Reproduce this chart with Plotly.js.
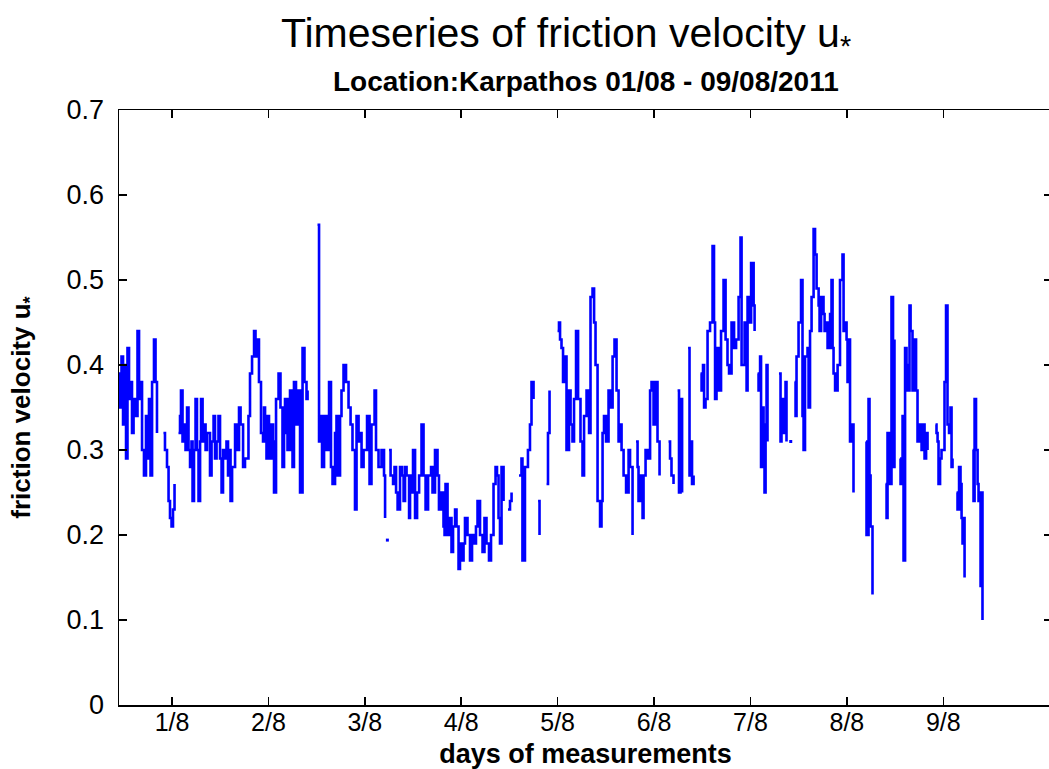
<!DOCTYPE html>
<html>
<head>
<meta charset="utf-8">
<script src="https://cdn.plot.ly/plotly-3.0.1.min.js"></script>
<style>
  html, body { margin: 0; padding: 0; overflow: hidden; background: #ffffff; }
  #chart { width: 1052px; height: 769px; }
</style>
</head>
<body>
<div id="chart"></div>
<script>
// Time in days of August 2011, friction velocity u* (m/s); null = gap in record
const days = [
0.445,0.461,0.476,0.492,0.507,0.523,0.538,0.554,0.570,0.585,0.601,0.616,0.642,0.658,0.673,0.689,0.709,0.730,0.746,0.761,0.777,0.793,0.813,0.829,0.844,0.865,
0.911,0.927,0.948,0.964,0.979,0.995,1.010,1.026,1.041,
1.067,1.083,1.093,1.109,1.124,1.140,1.156,1.171,1.187,1.202,1.213,1.228,1.244,1.259,1.275,1.291,1.301,1.317,1.332,1.348,1.363,1.394,1.410,1.431,1.446,1.462,1.482,1.498,1.514,1.529,1.550,1.565,1.581,1.597,1.607,1.623,1.654,1.674,1.695,1.711,1.737,1.757,1.793,1.809,1.830,1.851,1.866,1.882,1.902,1.923,1.944,1.954,1.965,1.980,1.991,2.006,2.017,2.032,2.048,2.058,2.079,2.105,2.125,2.146,2.162,2.172,2.198,2.224,2.250,2.265,2.286,2.312,2.328,2.354,2.374,2.395,2.406,2.421,
2.509,2.525,2.535,2.556,2.577,2.603,2.629,2.649,2.665,2.691,2.706,2.717,2.743,2.758,2.779,2.805,2.831,2.852,2.872,2.898,2.914,2.935,2.950,2.966,2.987,3.023,3.049,3.069,3.101,3.116,3.142,3.173,3.199,3.210,3.220,
3.251,3.267,3.293,3.308,3.324,3.340,3.365,3.386,3.402,3.417,3.433,3.459,3.469,3.485,3.500,3.521,3.542,3.563,3.588,3.609,3.630,3.656,3.687,3.702,3.728,3.754,3.769,3.790,3.816,3.827,3.837,3.858,3.879,3.899,3.915,3.936,3.951,3.972,3.987,4.008,4.024,4.039,4.065,4.091,4.112,4.133,4.153,4.169,4.195,4.221,4.241,4.262,4.288,4.309,4.335,4.356,4.371,4.387,4.402,4.418,4.439,4.449,
4.485,4.506,4.522,4.532,
4.599,4.625,4.635,4.661,4.692,4.713,4.729,4.750,4.771,
4.797,4.812,4.828,
4.885,4.900,4.916,4.931,
4.999,5.014,5.025,5.040,5.056,5.072,5.092,5.118,5.134,5.154,5.170,5.191,5.212,5.237,5.258,5.274,5.300,5.326,5.341,5.362,5.378,5.393,5.414,5.440,5.455,5.466,5.481,5.502,5.528,5.549,5.570,5.590,5.611,5.632,5.647,5.663,5.684,5.710,5.736,5.751,5.777,5.793,
5.813,5.829,5.839,5.865,5.881,5.891,5.912,5.933,5.959,5.974,5.995,6.021,6.036,6.057,6.073,
6.150,6.166,6.181,6.202,6.218,
6.244,6.259,6.275,6.291,6.306,
6.353,6.368,6.379,6.394,6.410,6.425,
6.482,6.493,6.508,6.519,6.534,6.555,6.581,6.607,6.622,6.633,6.648,6.674,6.695,6.721,6.742,6.762,6.778,6.804,6.830,6.851,6.877,6.897,6.908,6.939,6.960,6.970,6.986,7.007,7.033,7.043,7.058,
7.074,7.084,7.100,7.110,7.120,7.136,7.146,7.157,7.167,7.177,7.193,
7.296,7.312,7.322,7.343,7.364,7.374,7.385,
7.457,7.468,7.478,7.499,7.525,7.540,7.551,7.566,7.592,7.603,7.618,7.634,7.655,7.670,7.686,7.707,7.717,7.733,7.758,7.769,7.779,7.800,7.826,7.841,7.852,7.862,7.878,7.904,7.929,7.955,7.966,7.981,7.997,8.007,8.023,8.033,8.043,8.069,8.085,
8.199,8.204,8.225,8.235,8.246,8.266,8.282,
8.401,8.412,8.422,8.448,8.463,8.479,8.494,8.510,
8.552,8.557,8.578,8.588,8.604,8.619,8.630,8.650,8.661,8.681,8.697,8.718,8.733,8.754,8.775,8.785,8.806,8.822,8.837,8.853,
8.920,8.930,8.941,8.951,8.967,8.982,9.013,9.029,9.044,9.060,9.075,9.086,9.096,9.112,
9.138,9.148,9.164,9.179,9.190,9.200,9.210,9.221,9.236,
9.304,9.314,9.325,9.340,9.356,9.366,9.376,9.387,9.397,9.407
];
const ustar = [
0.39,0.35,0.41,0.33,0.40,0.29,0.42,0.36,0.38,0.32,0.36,0.34,0.44,0.36,0.38,0.30,0.27,0.34,0.29,0.36,0.27,0.38,0.43,0.38,0.32,null,
0.32,0.30,0.28,0.24,0.22,0.21,0.23,0.26,null,
0.32,0.34,0.37,0.31,0.33,0.30,0.35,0.30,0.28,0.31,0.24,0.30,0.36,0.30,0.24,0.31,0.36,0.31,0.33,0.30,0.32,0.27,0.31,0.34,0.29,0.31,0.34,0.29,0.25,0.30,0.29,0.31,0.27,0.30,0.24,0.28,0.33,0.30,0.35,0.33,0.28,0.29,0.34,0.39,0.41,0.44,0.41,0.43,0.38,0.32,0.31,0.35,0.31,0.29,0.34,0.30,0.29,0.33,0.31,0.25,0.36,0.39,0.35,0.28,0.32,0.36,0.30,0.37,0.28,0.38,0.33,0.37,0.25,0.42,0.38,0.36,0.37,null,
0.565,0.31,0.34,0.28,0.34,0.30,0.38,0.28,0.26,0.32,0.34,0.27,0.34,0.37,0.40,0.38,0.35,0.33,0.30,0.23,0.34,0.31,0.32,0.28,0.30,0.34,0.26,0.33,0.37,0.30,0.28,0.30,0.27,0.22,null,
0.30,0.27,0.26,0.28,0.25,0.23,0.28,0.27,0.24,0.28,0.27,0.22,0.27,0.25,0.30,0.22,0.25,0.27,0.33,0.27,0.23,0.27,0.28,0.25,0.30,0.27,0.23,0.25,0.21,0.20,0.26,0.20,0.22,0.18,0.21,0.23,0.21,0.16,0.19,0.17,0.19,0.22,0.20,0.17,0.20,0.19,0.21,0.24,0.20,0.18,0.22,0.19,0.17,0.20,0.26,0.28,0.27,0.22,0.19,0.28,0.24,null,
0.23,0.24,0.25,null,
0.27,0.29,0.17,0.28,0.30,0.33,0.38,0.36,null,
0.24,0.20,null,
0.26,0.32,0.37,null,
0.44,0.45,0.43,0.42,0.38,0.41,0.30,0.37,0.33,0.31,0.36,0.44,0.36,0.31,0.27,0.34,0.37,0.32,0.48,0.49,0.45,0.40,0.24,0.21,0.24,0.32,0.34,0.31,0.37,0.35,0.41,0.43,0.37,0.31,0.33,0.30,0.27,0.25,0.30,0.28,0.20,null,
0.31,0.28,0.24,0.27,0.22,0.27,0.30,0.29,0.37,0.38,0.33,0.38,0.31,0.27,null,
0.31,0.29,0.27,0.26,null,
0.37,0.25,0.36,0.25,null,
0.42,0.27,0.31,0.26,0.27,null,
0.39,0.37,0.40,0.35,0.36,0.44,0.45,0.54,0.45,0.36,0.42,0.37,0.44,0.50,0.43,0.40,0.39,0.45,0.42,0.43,0.48,0.55,0.40,0.45,0.37,0.48,0.45,0.52,0.47,0.44,null,
0.39,0.37,0.41,0.28,0.35,0.32,0.25,0.33,0.40,0.31,null,
0.39,0.31,0.36,0.32,0.38,0.31,null,
0.38,0.34,0.41,0.45,0.50,0.34,0.30,0.41,0.42,0.35,0.44,0.48,0.56,0.53,0.49,0.47,0.44,0.48,0.46,0.44,0.45,0.42,0.46,0.50,0.42,0.39,0.37,0.40,0.50,0.53,0.44,0.45,0.43,0.38,0.43,0.31,0.33,0.25,null,
0.31,0.20,0.36,0.27,0.21,0.13,null,
0.26,0.22,0.32,0.26,0.48,0.28,0.43,null,
0.29,0.26,0.34,0.17,0.42,0.40,0.37,0.47,0.44,0.37,0.43,0.37,0.31,0.33,0.30,0.33,0.29,0.32,0.30,null,
0.33,0.32,0.31,0.26,0.29,0.30,0.38,0.47,0.33,0.32,0.35,0.28,0.29,null,
0.25,0.23,0.28,0.26,0.22,0.19,0.22,0.15,null,
0.30,0.24,0.36,0.30,0.26,0.24,0.25,0.14,0.25,0.10
];
// isolated single samples
const isoDays = [3.234, 7.418];
const isoUstar = [0.194, 0.31];

const tickDays = [1, 2, 3, 4, 5, 6, 7, 8, 9];
const tickLabels = ['1/8', '2/8', '3/8', '4/8', '5/8', '6/8', '7/8', '8/8', '9/8'];
const yTicks = [0, 0.1, 0.2, 0.3, 0.4, 0.5, 0.6, 0.7];
const yTickLabels = ['0', '0.1', '0.2', '0.3', '0.4', '0.5', '0.6', '0.7'];

const FONT = 'Liberation Sans, Arial, Helvetica, sans-serif';

const traces = [
  {
    type: 'scatter', mode: 'lines', x: days, y: ustar,
    line: { color: '#0000ff', width: 2.6, shape: 'hv' },
    connectgaps: false, hoverinfo: 'x+y', showlegend: false
  },
  {
    type: 'scatter', mode: 'markers', x: isoDays, y: isoUstar,
    marker: { color: '#0000ff', size: 3, symbol: 'square' },
    showlegend: false
  }
];

const layout = {
  width: 1052, height: 769,
  margin: { l: 119, r: 0, t: 110, b: 64, pad: 0 },
  paper_bgcolor: '#ffffff', plot_bgcolor: '#ffffff',
  font: { family: FONT, color: '#000000' },
  showlegend: false,
  title: {
    text: 'Timeseries of friction velocity u<sub>*</sub>',
    font: { family: FONT, size: 41, color: '#000000' },
    xref: 'container', x: 566 / 1052, xanchor: 'center',
    yref: 'container', y: 1 - 33 / 769, yanchor: 'middle'
  },
  annotations: [{
    text: '<b>Location:Karpathos 01/08 - 09/08/2011</b>',
    xref: 'paper', x: 0.5, xanchor: 'center',
    yref: 'paper', y: 1 + 28 / 595, yanchor: 'middle',
    showarrow: false,
    font: { family: FONT, size: 28, color: '#000000' }
  }],
  xaxis: {
    range: [0.450, 10.128],
    tickmode: 'array', tickvals: tickDays, ticktext: tickLabels,
    ticks: 'inside', ticklen: 8, tickwidth: 1.5, tickcolor: '#000000',
    showline: true, linecolor: '#000000', linewidth: 1.5, mirror: 'ticks',
    showgrid: false, zeroline: false,
    ticklabelstandoff: -6,
    tickfont: { family: FONT, size: 25, color: '#000000' },
    title: { text: '<b>days of measurements</b>', standoff: 10,
             font: { family: FONT, size: 27, color: '#000000' } }
  },
  yaxis: {
    range: [0, 0.7],
    tickmode: 'array', tickvals: yTicks, ticktext: yTickLabels,
    ticks: 'inside', ticklen: 8, tickwidth: 1.5, tickcolor: '#000000',
    showline: true, linecolor: '#000000', linewidth: 1.5, mirror: 'ticks',
    showgrid: false, zeroline: false,
    ticklabelstandoff: 8,
    tickfont: { family: FONT, size: 27, color: '#000000' },
    title: { text: '<b>friction velocity u<sub>*</sub></b>', standoff: 28,
             font: { family: FONT, size: 26, color: '#000000' } }
  }
};

Plotly.newPlot('chart', traces, layout, { displayModeBar: false, staticPlot: true });
</script>
</body>
</html>
